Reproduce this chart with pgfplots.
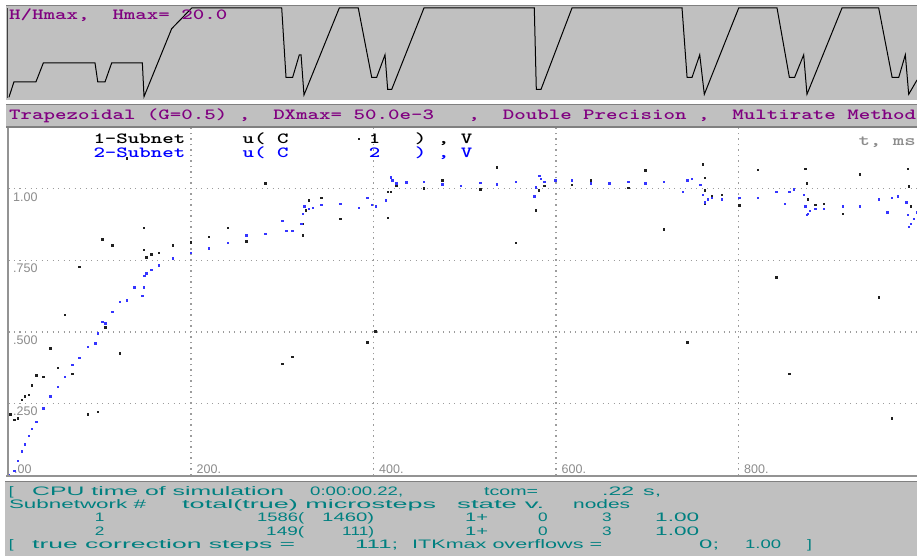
\documentclass[border=0pt]{standalone}
\usepackage{pgfplots}
\pgfplotsset{compat=1.18}
\usepackage{fontspec}
\usepackage{graphicx}
\newfontfamily\lsans{Liberation Sans}
\definecolor{panel}{HTML}{C0C0C0}
\definecolor{frame}{HTML}{808080}
\definecolor{dospurple}{HTML}{800080}
\definecolor{dosteal}{HTML}{008080}
\definecolor{ptblue}{HTML}{3535FF}
\definecolor{ptblack}{HTML}{202020}
\definecolor{gridgray}{HTML}{9C9C9C}
\definecolor{ticklab}{HTML}{8C8C8C}
\newcommand\mono[2]{\resizebox{#1}{\height}{\fontsize{15.5}{15.5}\selectfont\ttfamily\bfseries\frenchspacing #2}}
\newcommand\bt[2]{\resizebox{#1}{\height}{\lsans\fontsize{12.3}{12.3}\selectfont #2}}
\newcommand\bs[1]{\scalebox{1.4}[1]{\lsans\fontsize{12.3}{12.3}\selectfont #1}}
\newcommand\tickfont{\lsans\fontsize{12.5}{12.5}\selectfont}
\begin{document}
\begin{tikzpicture}[x=1pt,y=1pt]
\path[use as bounding box, fill=white] (0,0) rectangle (917,556);
% panels
\fill[panel] (6,456) rectangle (917,551);
\fill[panel] (6,430) rectangle (917,452);
\fill[panel] (5,0) rectangle (917,75);
% top panel: H/Hmax
\begin{axis}[at={(8.5pt,458pt)}, anchor=south west, scale only axis,
  width=908.5pt, height=90pt, xmin=0, xmax=995.6, ymin=0, ymax=1,
  axis line style={draw=none}, ticks=none, clip=false]
\addplot[black, line width=1pt] coordinates {
(0.5,0.008)(6.0,0.18)(30.1,0.18)(38.2,0.39)(94.8,0.39)(97.8,0.18)(105.8,0.18)(113.1,0.39)(146.7,0.39)(148.5,0.015)(178.8,0.77)(200.8,1)(299.4,1)(304.1,0.23)(311.4,0.23)(318.7,0.48)(320.6,0.48)(323.8,0.033)(362.5,1)(383.3,1)(398.0,0.23)(403.5,0.23)(412.6,0.48)(415.5,0.097)(420.0,0.097)(455.3,1)(576.2,1)(578.4,0.097)(583.6,0.097)(617.5,1)(738.1,1)(743.6,0.23)(749.1,0.23)(757.5,0.48)(762.5,0.041)(800.2,1)(842.2,1)(855.7,0.23)(861.5,0.23)(871.4,0.48)(875.0,0.041)(913.4,1)(953.6,1)(968.3,0.23)(975.6,0.23)(982.8,0.48)(986.5,0.041)(995.6,0.2)};
\end{axis}
% main plot
\begin{axis}[at={(8.5pt,80.7pt)}, anchor=south west, scale only axis,
  width=908.5pt, height=347.3pt, xmin=0, xmax=995.6, ymin=0, ymax=1.2122,
  axis line style={draw=none}, clip=false,
  xtick={0,200,400,600,800}, xticklabels={.00,200.,400.,600.,800.},
  ytick={0.25,0.5,0.75,1}, yticklabels={.250,.500,.750,1.00},
  major tick length=0pt,
  grid=major, grid style={gridgray, line width=1.3pt, dash pattern=on 1.3pt off 4.2pt},
  ticklabel style={font=\tickfont, text=ticklab, inner sep=0pt},
  xticklabel style={anchor=south west, xshift=5.5pt, yshift=1pt},
  yticklabel style={anchor=north west, xshift=4.5pt, yshift=-3.3pt}]
\addplot[only marks, color=ptblack, mark=square*, mark size=0.7pt, mark options={solid, draw=ptblack, fill=ptblack, line width=0.2pt}] coordinates {
(1.6,0.214)(6.0,0.194)(9.7,0.200)(14.4,0.264)(17.4,0.276)(21.7,0.281)(25.4,0.315)(30.1,0.350)(37.8,0.345)(45.8,0.444)(53.9,0.375)(61.2,0.561)(69.6,0.355)(77.3,0.728)(86.8,0.214)(97.8,0.223)(102.5,0.824)(105.8,0.517)(113.4,0.803)(121.9,0.426)(129.5,1.107)(148.2,0.864)(148.2,0.787)(151.0,0.761)(156.2,0.772)(164.2,0.778)(180.0,0.803)(199.7,0.814)(219.0,0.834)(239.8,0.864)(260.3,0.818)(281.1,1.020)(299.7,0.390)(311.0,0.414)(322.0,0.878)(322.0,0.838)(325.3,0.925)(328.6,0.960)(342.5,0.969)(363.3,0.895)(383.4,1.175)(392.9,0.465)(401.6,0.503)(415.2,0.899)(415.2,0.990)(418.9,0.990)(424.7,1.011)(454.6,1.003)(475.1,1.030)(516.7,0.999)(535.0,1.076)(555.4,0.813)(577.7,0.925)(581.0,0.996)(586.9,1.012)(598.9,1.028)(617.2,1.014)(637.6,1.030)(679.0,1.004)(697.6,1.065)(718.0,0.860)(743.6,0.465)(760.8,1.086)(762.5,1.040)(762.5,0.995)(762.5,0.950)(765.8,0.962)(770.6,0.974)(781.6,0.979)(800.6,0.943)(820.6,1.066)(841.0,0.692)(855.3,0.355)(872.8,1.070)(874.3,1.020)(875.8,0.964)(883.8,0.945)(893.3,0.949)(913.8,0.914)(932.8,1.051)(953.2,0.622)(967.5,0.199)(985.0,1.070)(986.5,1.010)(988.3,0.940)};
\addplot[only marks, color=ptblue, mark=square*, mark size=0.7pt, mark options={solid, draw=ptblue, fill=ptblue, line width=0.2pt}] coordinates {
(0,0)(6.0,0.016)(9.7,0.052)(14.4,0.084)(17.4,0.109)(21.7,0.138)(25.4,0.164)(30.1,0.188)(37.8,0.235)(45.8,0.276)(53.9,0.309)(61.2,0.345)(69.6,0.386)(77.3,0.410)(86.8,0.450)(94.8,0.461)(97.8,0.496)(102.5,0.537)(105.8,0.531)(113.4,0.572)(121.9,0.607)(129.5,0.612)(137.5,0.657)(146.6,0.627)(148.2,0.657)(148.8,0.698)(151.0,0.706)(156.2,0.718)(164.2,0.733)(180.0,0.758)(199.7,0.778)(219.0,0.793)(239.8,0.813)(260.3,0.839)(281.1,0.843)(299.7,0.889)(304.4,0.854)(311.0,0.854)(320.6,0.878)(322.0,0.914)(323.9,0.939)(328.6,0.930)(333.4,0.934)(342.5,0.945)(363.3,0.949)(383.4,0.934)(392.9,0.969)(398.0,0.945)(402.4,0.940)(413.3,0.961)(418.9,1.041)(420.3,1.031)(424.7,1.020)(435.6,1.024)(454.6,1.026)(475.1,1.016)(495.6,1.012)(516.7,1.021)(535.0,1.016)(555.4,1.026)(575.9,0.975)(577.7,1.006)(581.3,1.046)(582.8,1.035)(586.9,1.026)(598.9,1.030)(617.2,1.030)(637.6,1.020)(658.1,1.020)(679.0,1.025)(697.6,1.020)(718.0,1.025)(738.9,0.990)(743.6,1.030)(748.3,1.035)(757.8,1.014)(760.8,0.979)(762.5,0.954)(765.8,0.964)(770.6,0.970)(781.6,0.964)(800.6,0.970)(820.6,0.969)(841.0,0.990)(850.6,0.949)(855.3,0.990)(860.1,0.999)(871.0,0.979)(872.8,0.939)(874.3,0.910)(875.8,0.914)(877.6,0.924)(883.8,0.930)(893.3,0.930)(913.8,0.939)(932.8,0.939)(953.2,0.964)(962.7,0.919)(967.5,0.969)(974.0,0.975)(983.5,0.954)(985.0,0.910)(986.5,0.869)(988.3,0.878)(991.6,0.895)(995.2,0.919)};
\end{axis}
% frames
\draw[frame, line width=1.5pt] (6,550.5) -- (917,550.5);
\draw[black!75, line width=1.2pt] (7.5,458) -- (7.5,548);
\draw[frame, line width=1.5pt] (6,451.5) -- (917,451.5);
\draw[frame, line width=2pt] (6,428.5) -- (917,428.5);
\draw[frame!85, line width=1.5pt] (8,79.5) -- (8,428);
\draw[frame!85, line width=2pt] (6,79.5) -- (917,79.5);
\draw[frame, line width=1pt] (5,74.5) -- (917,74.5);
% texts
\node[anchor=base west, inner sep=0pt, text=dospurple] at (9,536.5) {\mono{218.1pt}{H/Hmax,~~Hmax=~20.0}};
\node[anchor=base west, inner sep=0pt, text=dospurple] at (9,436.7) {\mono{906.9pt}{Trapezoidal~(G=0.5)~,~~DXmax=~50.0e-3~~~,~~Double~Precision~,~~Multirate~Method}};
\node[anchor=base west, inner sep=0pt, text=black] at (93.3,412) {\mono{378.8pt}{1-Subnet~~~~~u(~C~~~~~~~1~~~)~,~V}};
\node[anchor=base west, inner sep=0pt, text=blue] at (93.3,398) {\mono{378.8pt}{2-Subnet~~~~~u(~C~~~~~~~2~~~)~,~V}};
\node[anchor=base west, inner sep=0pt, text=ticklab] at (858.3,410) {\mono{57.4pt}{t,~ms}};
% bottom panel text
\begin{scope}[every node/.style={anchor=base west, inner sep=0pt, text=dosteal}]
\node at (8.8,60.5) {\bs{[}};
\node at (32,60.5) {\bt{252pt}{CPU time of simulation}};
\node at (310,60.5) {\bt{93pt}{0:00:00.22,}};
\node at (484,60.5) {\bt{54pt}{tcom=}};
\node at (602,60.5) {\bt{32pt}{.22}};
\node at (643,60.5) {\bt{18pt}{s,}};
\node at (8.8,47.3) {\bt{137pt}{Subnetwork \#}};
\node at (182,47.3) {\bt{254pt}{total(true) microsteps}};
\node at (457,47.3) {\bt{87pt}{state v.}};
\node at (573,47.3) {\bt{57pt}{nodes}};
\node at (94.7,34.1) {\bs{1}};
\node at (257,34.1) {\bt{47pt}{1586(}};
\node at (322,34.1) {\bt{52pt}{1460)}};
\node at (465,34.1) {\bt{23pt}{1+}};
\node at (538,34.1) {\bs{0}};
\node at (602,34.1) {\bs{3}};
\node at (655,34.1) {\bt{44pt}{1.00}};
\node at (94.7,20.9) {\bs{2}};
\node at (266,20.9) {\bt{38pt}{149(}};
\node at (342,20.9) {\bt{32pt}{111)}};
\node at (465,20.9) {\bt{23pt}{1+}};
\node at (538,20.9) {\bs{0}};
\node at (602,20.9) {\bs{3}};
\node at (655,20.9) {\bt{44pt}{1.00}};
\node at (8.8,7.7) {\bs{[}};
\node at (32,7.7) {\bt{263pt}{true correction steps =}};
\node at (355,7.7) {\bt{43pt}{111;}};
\node at (412,7.7) {\bt{190pt}{ITKmax overflows =}};
\node at (699,7.7) {\bt{20pt}{0;}};
\node at (745,7.7) {\bt{36pt}{1.00}};
\node at (807,7.7) {\bs{]}};
\end{scope}
\end{tikzpicture}
\end{document}
